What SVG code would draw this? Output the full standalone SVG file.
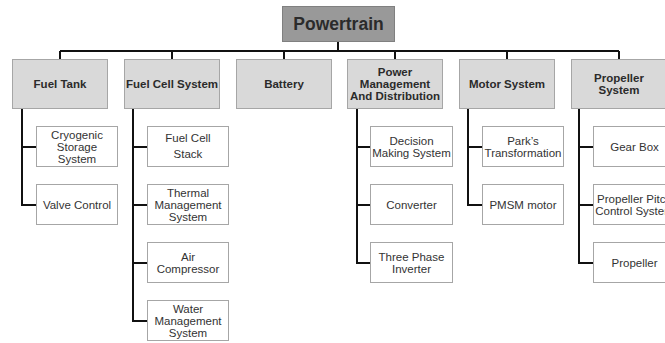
<svg xmlns="http://www.w3.org/2000/svg" width="665" height="343" viewBox="0 0 665 343">
<style>
.root{fill:#999999;stroke:#808080;stroke-width:1}
.l1{fill:#d9d9d9;stroke:#a6a6a6;stroke-width:1}
.l2{fill:#ffffff;stroke:#a6a6a6;stroke-width:1}
text{font-family:"Liberation Sans",Arial,sans-serif;text-anchor:middle;fill:#333333}
.tr{font-size:17.5px;font-weight:bold;fill:#2b2b2b}
.t1{font-size:11.5px;font-weight:bold;fill:#2b2b2b}
.t2{font-size:11.5px}
.conn{fill:none;stroke:#111111;stroke-width:2}
</style>
<g id="connectors" class="conn">
<path d="M338,42V51M60,51H619M60,51V59M172,51V59M284,51V59M395,51V59M507,51V59M619,51V59"/>
<path d="M22,109V205H36M22,147H36"/>
<path d="M133,109V321H147M133,147H147M133,205H147M133,263H147"/>
<path d="M357,109V263H370M357,147H370M357,205H370"/>
<path d="M468,109V205H482M468,147H482"/>
<path d="M579,109V263H593M579,147H593M579,205H593"/>
</g>
<g id="powertrain"><rect class="root" x="282.5" y="6.5" width="112" height="35"/><text class="tr" x="338.5" y="30">Powertrain</text></g>
<g id="fuel-tank"><rect class="l1" x="12.5" y="59.5" width="95" height="49"/><text class="t1" x="60" y="88">Fuel Tank</text></g>
<g id="fuel-cell-system"><rect class="l1" x="124.5" y="59.5" width="95" height="49"/><text class="t1" x="172" y="88">Fuel Cell System</text></g>
<g id="battery"><rect class="l1" x="236.5" y="59.5" width="95" height="49"/><text class="t1" x="284" y="88">Battery</text></g>
<g id="power-management"><rect class="l1" x="347.5" y="59.5" width="95" height="49"/><text class="t1" x="395" y="76">Power</text><text class="t1" x="395" y="88">Management</text><text class="t1" x="395" y="100">And Distribution</text></g>
<g id="motor-system"><rect class="l1" x="459.5" y="59.5" width="95" height="49"/><text class="t1" x="507" y="88">Motor System</text></g>
<g id="propeller-system"><rect class="l1" x="571.5" y="59.5" width="95" height="49"/><text class="t1" x="619" y="82">Propeller</text><text class="t1" x="619" y="94">System</text></g>
<g id="cryogenic"><rect class="l2" x="36.5" y="126.5" width="81" height="40"/><text class="t2" x="77" y="139">Cryogenic</text><text class="t2" x="77" y="151">Storage</text><text class="t2" x="77" y="163">System</text></g>
<g id="valve-control"><rect class="l2" x="36.5" y="184.5" width="81" height="40"/><text class="t2" x="77" y="209">Valve Control</text></g>
<g id="fuel-cell-stack"><rect class="l2" x="147.5" y="126.5" width="81" height="40"/><text class="t2" x="188" y="142">Fuel Cell</text><text class="t2" x="188" y="158">Stack</text></g>
<g id="thermal"><rect class="l2" x="147.5" y="184.5" width="81" height="40"/><text class="t2" x="188" y="197">Thermal</text><text class="t2" x="188" y="209">Management</text><text class="t2" x="188" y="221">System</text></g>
<g id="air-compressor"><rect class="l2" x="147.5" y="242.5" width="81" height="40"/><text class="t2" x="188" y="261">Air</text><text class="t2" x="188" y="273">Compressor</text></g>
<g id="water"><rect class="l2" x="147.5" y="300.5" width="81" height="40"/><text class="t2" x="188" y="313">Water</text><text class="t2" x="188" y="325">Management</text><text class="t2" x="188" y="337">System</text></g>
<g id="decision"><rect class="l2" x="370.5" y="126.5" width="82" height="40"/><text class="t2" x="411.5" y="145">Decision</text><text class="t2" x="411.5" y="157">Making System</text></g>
<g id="converter"><rect class="l2" x="370.5" y="184.5" width="82" height="40"/><text class="t2" x="411.5" y="209">Converter</text></g>
<g id="inverter"><rect class="l2" x="370.5" y="242.5" width="82" height="40"/><text class="t2" x="411.5" y="261">Three Phase</text><text class="t2" x="411.5" y="273">Inverter</text></g>
<g id="park"><rect class="l2" x="482.5" y="126.5" width="81" height="40"/><text class="t2" x="523" y="145">Park’s</text><text class="t2" x="523" y="157">Transformation</text></g>
<g id="pmsm"><rect class="l2" x="482.5" y="184.5" width="81" height="40"/><text class="t2" x="523" y="209">PMSM motor</text></g>
<g id="gear-box"><rect class="l2" x="593.5" y="126.5" width="82" height="40"/><text class="t2" x="634.5" y="151">Gear Box</text></g>
<g id="pitch-control"><rect class="l2" x="593.5" y="184.5" width="82" height="40"/><text class="t2" x="634.5" y="203">Propeller Pitch</text><text class="t2" x="634.5" y="215">Control System</text></g>
<g id="propeller"><rect class="l2" x="593.5" y="242.5" width="82" height="40"/><text class="t2" x="634.5" y="267">Propeller</text></g>
</svg>
